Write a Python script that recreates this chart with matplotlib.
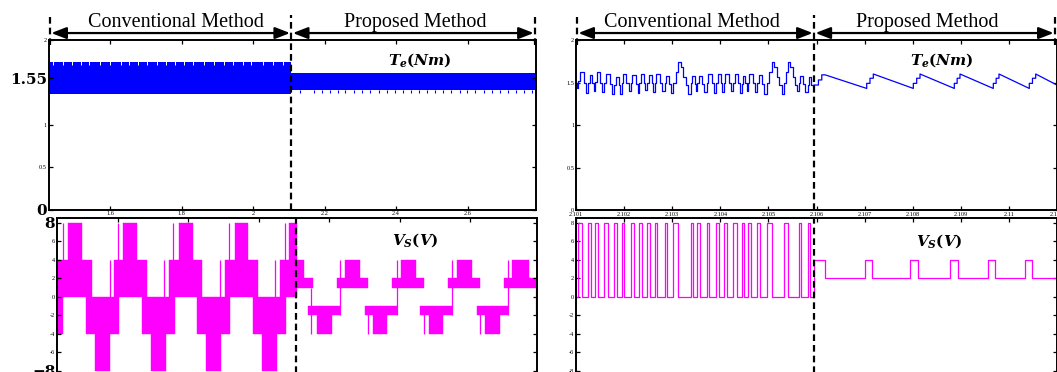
import matplotlib
matplotlib.use('Agg')
import matplotlib.pyplot as plt

plt.rcParams['font.family'] = 'Liberation Serif'
plt.rcParams['mathtext.fontset'] = 'custom'
plt.rcParams['mathtext.rm'] = 'DejaVu Serif:bold'
plt.rcParams['mathtext.it'] = 'DejaVu Serif:italic:bold'
plt.rcParams['mathtext.bf'] = 'DejaVu Serif:bold'

W, H = 1057, 372
BLUE = '#0000ff'
MAG = '#ff00ff'

# ---------- left panel: 1.43 s .. 2.79 s ----------
wide_xlim = (1.427, 2.79)
wide_switch = 2.107
wide_xticks = [1.6, 1.8, 2.0, 2.2, 2.4, 2.6]
wide_xlabels = ['1.6', '1.8', '2', '2.2', '2.4', '2.6']

# torque envelope (Nm)
te_conv_lo, te_conv_hi = 1.36, 1.745
te_conv_notches = [1.440, 1.468, 1.494, 1.519, 1.541, 1.572, 1.600, 1.631, 1.653,
                   1.678, 1.704, 1.732, 1.757, 1.782, 1.807, 1.832, 1.861, 1.889,
                   1.917, 1.942, 1.970, 1.995, 2.026, 2.054, 2.082]
te_prop_lo, te_prop_hi = 1.41, 1.61
te_prop_dip = 1.37
te_prop_dips = [2.132, 2.169, 2.193, 2.214, 2.237, 2.258, 2.283, 2.305, 2.328, 2.352,
                2.373, 2.396, 2.419, 2.442, 2.464, 2.487, 2.510, 2.532, 2.554, 2.578,
                2.599, 2.622, 2.645, 2.669, 2.692, 2.714, 2.736, 2.758, 2.781]

# voltage PWM bands (start, end) in s
vs_conv_0_4 = [(1.427, 1.525), (1.589, 1.682), (1.746, 1.839), (1.904, 1.997), (2.060, 2.108)]
vs_conv_4_8 = [(1.459, 1.497), (1.615, 1.655), (1.773, 1.812), (1.932, 1.970), (2.087, 2.108)]
vs_conv_m4_0 = [(1.427, 1.445), (1.509, 1.604), (1.667, 1.762), (1.825, 1.918), (1.983, 2.076)]
vs_conv_m8_m4 = [(1.535, 1.577), (1.693, 1.736), (1.850, 1.893), (2.008, 2.051)]
vs_conv_spikes = [(1.445, 0, 8), (1.577, 0, 4), (1.601, 0, 8), (1.732, 0, 4), (1.757, 0, 8),
                  (1.890, 0, 4), (1.916, 0, 8), (2.046, 0, 4), (2.074, 0, 8)]

vs_prop_2_4 = [(2.108, 2.127), (2.245, 2.288), (2.403, 2.447), (2.562, 2.605), (2.720, 2.766)]
vs_prop_1_2 = [(2.108, 2.155), (2.221, 2.311), (2.378, 2.469), (2.537, 2.628), (2.695, 2.787)]
vs_prop_m2_m1 = [(2.141, 2.231), (2.302, 2.392), (2.458, 2.548), (2.619, 2.709)]
vs_prop_m4_m2 = [(2.166, 2.207), (2.324, 2.365), (2.482, 2.524), (2.641, 2.685)]
vs_prop_spikes = [(2.149, -4, 1), (2.231, -2, 4), (2.310, -4, -1), (2.392, -2, 4),
                  (2.469, -4, -1), (2.548, -2, 4), (2.628, -4, -1), (2.708, -2, 4),
                  (2.786, -2, 2)]

# ---------- right panel: zoom, ms after 2.101 s ----------
zoom_xlabels = ['2.101', '2.102', '2.103', '2.104', '2.105', '2.106',
                '2.107', '2.108', '2.109', '2.11', '2.111']
zoom_switch = 4.95

te_zc_ms = [0.000, 0.020,
            0.048, 0.084, 0.165, 0.210,
            0.256, 0.281, 0.336, 0.365,
            0.395, 0.430, 0.505, 0.547,
            0.588, 0.624, 0.703, 0.746,
            0.790, 0.825, 0.889, 0.920,
            0.950, 0.977, 1.048, 1.093,
            1.137, 1.172, 1.243, 1.279,
            1.316, 1.341, 1.405, 1.443,
            1.482, 1.510, 1.573, 1.607,
            1.642, 1.666, 1.743, 1.797,
            1.850, 1.874, 1.940, 1.981,
            2.023, 2.075, 2.127, 2.180, 2.233, 2.286, 2.338,
            2.391, 2.415, 2.467, 2.494,
            2.522, 2.550, 2.624, 2.671,
            2.717, 2.744, 2.818, 2.864,
            2.911, 2.942, 3.008, 3.042,
            3.077, 3.105, 3.179, 3.224,
            3.270, 3.305, 3.376, 3.410,
            3.445, 3.469, 3.523, 3.552,
            3.582, 3.607, 3.678, 3.723,
            3.769, 3.797, 3.872, 3.918,
            3.965, 4.017, 4.069, 4.120, 4.171, 4.222, 4.273,
            4.324, 4.369, 4.414, 4.458, 4.503, 4.547, 4.592,
            4.636, 4.657, 4.724, 4.771,
            4.817, 4.841, 4.893, 4.950]
te_zc_val = [1.50, 1.43,
             1.52, 1.62, 1.50, 1.38,
             1.49, 1.59, 1.49, 1.40,
             1.51, 1.62, 1.50, 1.39,
             1.50, 1.60, 1.48, 1.36,
             1.47, 1.57, 1.47, 1.37,
             1.49, 1.60, 1.50, 1.40,
             1.50, 1.59, 1.48, 1.38,
             1.50, 1.60, 1.50, 1.41,
             1.50, 1.59, 1.49, 1.39,
             1.50, 1.60, 1.49, 1.40,
             1.49, 1.58, 1.48, 1.38,
             1.49, 1.62, 1.745, 1.68, 1.57, 1.47, 1.36,
             1.49, 1.58, 1.48, 1.40,
             1.49, 1.58, 1.48, 1.39,
             1.49, 1.60, 1.49, 1.38,
             1.49, 1.60, 1.49, 1.39,
             1.50, 1.60, 1.50, 1.40,
             1.50, 1.60, 1.49, 1.38,
             1.48, 1.58, 1.49, 1.40,
             1.50, 1.60, 1.49, 1.39,
             1.49, 1.59, 1.48, 1.37,
             1.49, 1.62, 1.745, 1.68, 1.57, 1.47, 1.36,
             1.49, 1.62, 1.745, 1.68, 1.57, 1.47, 1.40,
             1.49, 1.58, 1.48, 1.39,
             1.47, 1.57, 1.47, 1.47]

te_zp_ms = [4.950, 5.040, 5.040, 5.110, 5.110, 5.180,
            6.044, 6.044, 6.112, 6.112, 6.181, 6.181,
            7.013, 7.013, 7.083, 7.083, 7.152, 7.152,
            7.865, 7.865, 7.924, 7.924, 7.983, 7.983,
            8.676, 8.676, 8.735, 8.735, 8.794, 8.794,
            9.424, 9.424, 9.490, 9.490, 9.557, 9.557,
            10.000]
te_zp_val = [1.47, 1.47, 1.53, 1.53, 1.59, 1.59,
             1.43, 1.49, 1.49, 1.55, 1.55, 1.60,
             1.43, 1.49, 1.49, 1.55, 1.55, 1.60,
             1.43, 1.49, 1.49, 1.55, 1.55, 1.60,
             1.43, 1.49, 1.49, 1.55, 1.55, 1.60,
             1.43, 1.49, 1.49, 1.55, 1.55, 1.60,
             1.47]

vs_zc_pulses = [(0.048, 0.119), (0.256, 0.306), (0.395, 0.464), (0.588, 0.659),
                (0.790, 0.859), (0.950, 1.004), (1.137, 1.206), (1.316, 1.366),
                (1.482, 1.538), (1.642, 1.690), (1.850, 1.898), (2.023, 2.127),
                (2.391, 2.439), (2.522, 2.578), (2.717, 2.771), (2.911, 2.973),
                (3.077, 3.133), (3.270, 3.341), (3.445, 3.493), (3.582, 3.632),
                (3.769, 3.825), (3.965, 4.069), (4.324, 4.414), (4.636, 4.678),
                (4.817, 4.865)]
vs_zp_ms = [4.950, 5.170, 6.002, 6.160, 6.938, 7.104, 7.782, 7.942, 8.572, 8.717, 9.328, 9.480, 10.0]
vs_zp_val = [4, 2, 4, 2, 4, 2, 4, 2, 4, 2, 4, 2, 2]


fig = plt.figure(figsize=(W / 100, H / 100), dpi=100)


def px_axes(l, t, r, b):
    return fig.add_axes([l / W, 1 - b / H, (r - l) / W, (b - t) / H])


def style(ax, xlim, ylim, xticks, xlabels, yticks, ylabels):
    ax.set_xlim(xlim)
    ax.set_ylim(ylim)
    ax.set_xticks(xticks)
    ax.set_yticks(yticks)
    ax.set_yticklabels(ylabels)
    if xlabels:
        ax.set_xticklabels(xlabels)
    ax.tick_params(direction='in', length=3, width=0.9, top=True, right=True,
                   labelsize=4.5, pad=1.2, labelbottom=bool(xlabels))
    for sp in ax.spines.values():
        sp.set_linewidth(1.4)


def big_labels(ax, texts):
    for lbl in ax.get_yticklabels():
        if lbl.get_text() in texts:
            lbl.set_fontsize(11)
            lbl.set_fontweight('bold')
            lbl.set_family('DejaVu Serif')


def bands(ax, spans, lo, hi, color):
    ax.broken_barh([(s, e - s) for s, e in spans], (lo, hi - lo),
                   facecolors=color, edgecolor=color, linewidth=0.3)


def dashed(ax, x, y0, y1):
    ax.plot([x, x], [y0, y1], transform=ax.get_xaxis_transform(), color='k',
            lw=1.6, ls=(0, (3, 1.8)), clip_on=False, zorder=5)


def header(ax, x0, xs, x1, conv_x, prop_x):
    tr = ax.get_xaxis_transform()
    dashed(ax, x0, 0.97, 1.15)
    dashed(ax, x1, 0.97, 1.15)
    dashed(ax, xs, 0.0, 1.15)
    arrow = dict(arrowstyle='<|-|>,head_length=0.9,head_width=0.35', color='k',
                 lw=1.6, shrinkA=1, shrinkB=1)
    ax.annotate('', xy=(x0, 1.041), xytext=(xs, 1.041), xycoords=tr, textcoords=tr,
                arrowprops=arrow, annotation_clip=False)
    ax.annotate('', xy=(xs, 1.041), xytext=(x1, 1.041), xycoords=tr, textcoords=tr,
                arrowprops=arrow, annotation_clip=False)
    ax.text(conv_x, 1.078, 'Conventional Method', transform=ax.transAxes,
            ha='center', va='baseline', fontsize=14.5)
    ax.text(prop_x, 1.078, 'Proposed Method', transform=ax.transAxes,
            ha='center', va='baseline', fontsize=14.5)


# ----- left top: torque -----
ax = px_axes(48.5, 40, 535.5, 209.5)
style(ax, wide_xlim, (0, 2), wide_xticks, wide_xlabels,
      [0, 0.5, 1, 1.55, 2], ['0', '0.5', '1', '1.55', '2'])
big_labels(ax, ['0', '1.55'])
ax.fill_between([wide_xlim[0], wide_switch], te_conv_lo, te_conv_hi, color=BLUE, lw=0)
ax.vlines(te_conv_notches, 1.70, 1.75, color='white', lw=0.7)
ax.fill_between([wide_switch, wide_xlim[1]], te_prop_lo, te_prop_hi, color=BLUE, lw=0)
ax.vlines(te_prop_dips, te_prop_dip, te_prop_lo, color=BLUE, lw=0.8)
ax.text(0.763, 0.882, r'$T_e(Nm)$', transform=ax.transAxes, ha='center', va='center', fontsize=11)
header(ax, wide_xlim[0] + 0.004, wide_switch, wide_xlim[1] - 0.001, 0.262, 0.753)

# ----- left bottom: voltage -----
ax = px_axes(57, 218.3, 537, 375.5)
style(ax, wide_xlim, (-8.5, 8.5), wide_xticks, None,
      list(range(-8, 9, 2)), ['\u22128', '-6', '-4', '-2', '0', '2', '4', '6', '8'])
big_labels(ax, ['\u22128', '8'])
bands(ax, vs_conv_0_4, 0, 4, MAG)
bands(ax, vs_conv_4_8, 4, 8, MAG)
bands(ax, vs_conv_m4_0, -4, 0, MAG)
bands(ax, vs_conv_m8_m4, -8, -4, MAG)
bands(ax, vs_prop_2_4, 2, 4, MAG)
bands(ax, vs_prop_1_2, 1, 2, MAG)
bands(ax, vs_prop_m2_m1, -2, -1, MAG)
bands(ax, vs_prop_m4_m2, -4, -2, MAG)
for t, lo, hi in vs_conv_spikes + vs_prop_spikes:
    ax.vlines(t, lo, hi, color=MAG, lw=0.9)
ax.text(0.746, 0.861, r'$V_S(V)$', transform=ax.transAxes, ha='center', va='center', fontsize=11)
dashed(ax, wide_switch, -0.05, 1.0)

# ----- right top: torque (zoom) -----
ax = px_axes(576, 40, 1057, 210)
style(ax, (0, 10), (0, 2), list(range(11)), zoom_xlabels,
      [0, 0.5, 1, 1.5, 2], ['0', '0.5', '1', '1.5', '2'])
ax.plot(te_zc_ms, te_zc_val, drawstyle='steps-post', color=BLUE, lw=0.9)
ax.plot(te_zp_ms, te_zp_val, color=BLUE, lw=0.9)
ax.text(0.761, 0.882, r'$T_e(Nm)$', transform=ax.transAxes, ha='center', va='center', fontsize=11)
header(ax, 0.02, zoom_switch, 9.96, 0.241, 0.730)

# ----- right bottom: voltage (zoom) -----
ax = px_axes(576, 218.3, 1057, 375.5)
style(ax, (0, 10), (-8.5, 8.5), list(range(11)), None,
      list(range(-8, 9, 2)), ['-8', '-6', '-4', '-2', '0', '2', '4', '6', '8'])
vs_t = [0.0]
vs_v = [0]
for s, e in vs_zc_pulses:
    vs_t += [s, e]
    vs_v += [8, 0]
ax.plot(vs_t + vs_zp_ms, vs_v + vs_zp_val, drawstyle='steps-post', color=MAG, lw=0.9)
ax.text(0.755, 0.855, r'$V_S(V)$', transform=ax.transAxes, ha='center', va='center', fontsize=11)
dashed(ax, zoom_switch, -0.05, 1.0)

fig.savefig('out.png', dpi=100)
